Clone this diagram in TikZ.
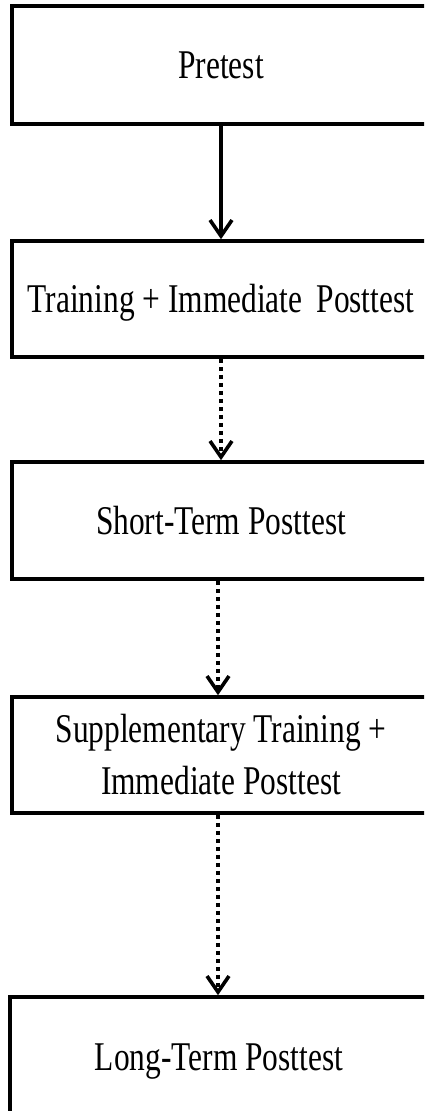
\documentclass[tikz,border=0pt]{standalone}
\usepackage{fontspec}
\setmainfont[FakeStretch=0.77]{Liberation Serif}
\usetikzlibrary{arrows.meta}
\begin{document}
\begin{tikzpicture}[x=1pt,y=-1pt,
  stage/.style={draw=black, line width=3.6pt, minimum width=418pt, inner sep=0pt,
    font=\fontsize{40.8}{52}\selectfont, align=center},
  oneline/.style={text height=27pt, text depth=0pt},
  flow/.style={line width=3.6pt, -{Straight Barb[length=16pt,width=22pt,line width=3.6pt]}},
  later/.style={flow, dash pattern=on 4pt off 4pt}]
\useasboundingbox (0,0) rectangle (424,1111);
\clip (0,0) rectangle (424,1111);

% study phases
\node[stage, oneline, minimum height=118pt] (pre)   at (221,65)    {Pretest};
\node[stage, oneline, minimum height=116pt] (train) at (221,299)   {Training + Immediate\hspace{0.15em} Posttest};
\node[stage, oneline, minimum height=117pt] (short) at (221,520.5) {Short-Term Posttest};
\node[stage, minimum height=116pt]          (supp)  at (221,755)   {Supplementary Training +\\Immediate Posttest};
\node[stage, oneline, minimum height=120pt] (long)  at (219,1057)  {Long-Term Posttest};

% transitions between phases
\draw[flow]  (pre.south) -- (train.north);
\draw[later] (train.south) -- (short.north);
\draw[later] ([xshift=-3pt]short.south) -- ([xshift=-3pt]supp.north);
\draw[later] ([xshift=-3pt]supp.south) -- ([xshift=-1pt]long.north);
\end{tikzpicture}
\end{document}
